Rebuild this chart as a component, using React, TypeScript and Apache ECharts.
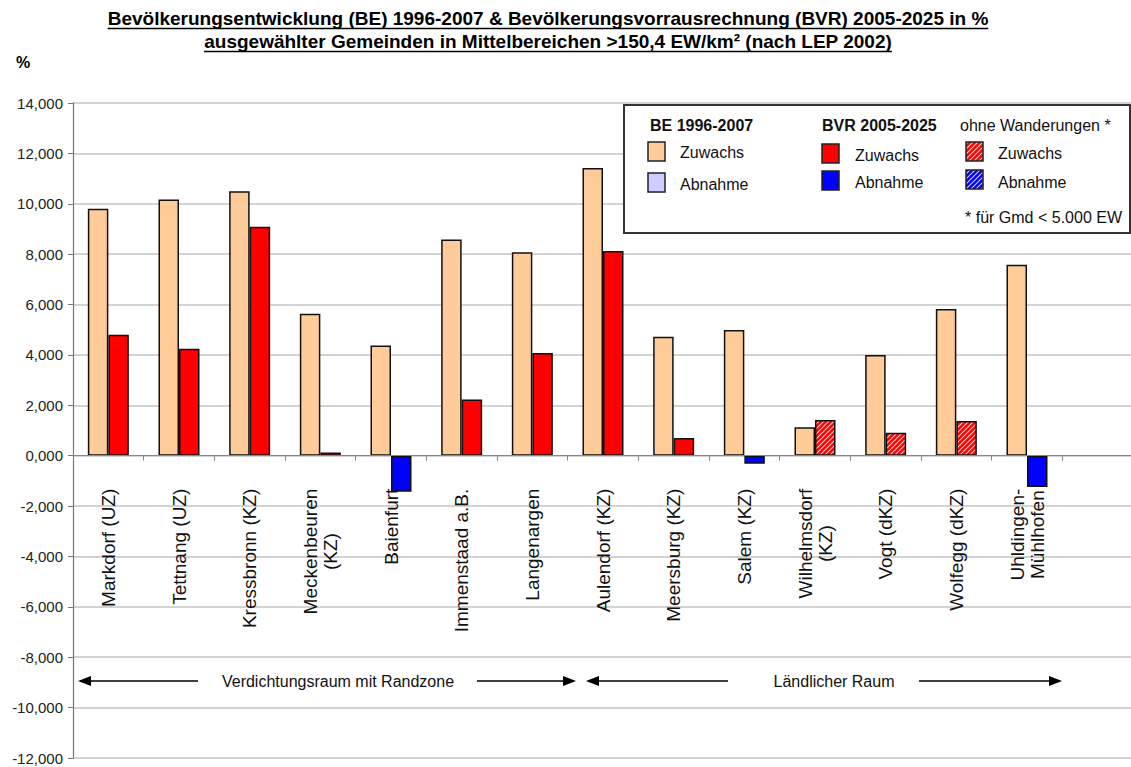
import React, { useEffect, useRef } from "react";
import * as echarts from "echarts";

// Municipalities (line breaks as printed under the axis); the last slot stays empty
const categories = [
  "Markdorf (UZ)",
  "Tettnang (UZ)",
  "Kressbronn (KZ)",
  "Meckenbeuren\n(KZ)",
  "Baienfurt",
  "Immenstaad a.B.",
  "Langenargen",
  "Aulendorf (KZ)",
  "Meersburg (KZ)",
  "Salem (KZ)",
  "Wilhelmsdorf\n(KZ)",
  "Vogt (dKZ)",
  "Wolfegg (dKZ)",
  "Uhldingen-\nMühlhofen",
  "",
];

// Bevölkerungsentwicklung 1996-2007 in %
const beValues = [9.8, 10.17, 10.5, 5.63, 4.37, 8.58, 8.08, 11.42, 4.72, 4.99, 1.13, 4.0, 5.82, 7.58, null];

// Bevölkerungsvorausrechnung 2005-2025 in %
const bvrValues = [4.8, 4.25, 9.09, 0.13, -1.43, 2.23, 4.08, 8.13, 0.7, -0.32, 1.42, 0.91, 1.38, -1.24, null];

// BVR computed without migration (municipalities < 5.000 EW)
const ohneWanderungen = [false, false, false, false, false, false, false, false, false, false, true, true, true, false, false];

const yMin = -12;
const yMax = 14;
const yStep = 2;

const titleLines = [
  "Bevölkerungsentwicklung (BE) 1996-2007 & Bevölkerungsvorrausrechnung (BVR) 2005-2025 in %",
  "ausgewählter Gemeinden in Mittelbereichen >150,4 EW/km² (nach LEP 2002)",
];

const regions = ["Verdichtungsraum mit Randzone", "Ländlicher Raum"];

const BE_UP = "#FFCC99";
const BE_DOWN = "#CCCCFF";
const BVR_UP = "#FF0000";
const BVR_DOWN = "#0000FF";
const FONT = "'Liberation Sans', Arial, sans-serif";

// Plot box
const GRID_LEFT = 73;
const GRID_TOP = 103;
const GRID_H = 655;
const GRID_W = 1060;
// Place the municipality names just under the zero line
const zeroY = GRID_TOP + (GRID_H * yMax) / (yMax - yMin);
const labelTop = zeroY + 33;

function hatch(base: string) {
  const s = 5;
  const c = document.createElement("canvas");
  c.width = s;
  c.height = s;
  const ctx = c.getContext("2d")!;
  ctx.fillStyle = base;
  ctx.fillRect(0, 0, s, s);
  ctx.strokeStyle = "rgba(255,255,255,0.8)";
  ctx.lineWidth = 1.1;
  ctx.beginPath();
  ctx.moveTo(-1, s + 1);
  ctx.lineTo(s + 1, -1);
  ctx.moveTo(-1, 1);
  ctx.lineTo(1, -1);
  ctx.moveTo(s - 1, s + 1);
  ctx.lineTo(s + 1, s - 1);
  ctx.stroke();
  return { image: c as any, repeat: "repeat" as const };
}

function textWidth(text: string, font: string) {
  const c = document.createElement("canvas").getContext("2d")!;
  c.font = font;
  return c.measureText(text).width;
}

function arrowHead(xTip: number, y: number, dir: number) {
  return {
    type: "polygon",
    shape: {
      points: [
        [xTip, y],
        [xTip - dir * 13, y - 5],
        [xTip - dir * 13, y + 5],
      ],
    },
    style: { fill: "#000" },
    z: 20,
  };
}

function hLine(x1: number, x2: number, y: number, width = 1.5, color = "#000") {
  return {
    type: "line",
    shape: { x1, y1: y, x2, y2: y },
    style: { stroke: color, lineWidth: width },
    z: 20,
  };
}

function txt(text: string, x: number, y: number, opts: any = {}) {
  return {
    type: "text",
    x,
    y,
    z: 30,
    style: {
      text,
      fontFamily: FONT,
      fontSize: opts.size ?? 16,
      fontWeight: opts.bold ? "bold" : "normal",
      fill: opts.color ?? "#111",
      align: opts.align ?? "left",
      verticalAlign: "middle",
    },
  };
}

function swatch(x: number, y: number, fill: any) {
  return {
    type: "rect",
    shape: { x, y, width: 17, height: 19 },
    style: { fill, stroke: "#222", lineWidth: 1.5 },
    z: 30,
  };
}

export default function App() {
  const ref = useRef<HTMLDivElement>(null);

  useEffect(() => {
    if (!ref.current) return;
    const chart = echarts.init(ref.current, undefined, { renderer: "svg" });

    const redHatch = hatch(BVR_UP);
    const blueHatch = hatch(BVR_DOWN);

    const beData = beValues.map((v) =>
      v == null ? null : { value: v, itemStyle: { color: v >= 0 ? BE_UP : BE_DOWN } }
    );
    const bvrData = bvrValues.map((v, i) => {
      if (v == null) return null;
      const hatched = ohneWanderungen[i];
      const color = v >= 0 ? (hatched ? redHatch : BVR_UP) : hatched ? blueHatch : BVR_DOWN;
      return { value: v, itemStyle: { color } };
    });

    // Title with underlines sized to the rendered text
    const titleSize = 19;
    const titleFont = `bold ${titleSize}px ${FONT}`;
    const titleCx = 548;
    const titleGraphics: any[] = [];
    titleLines.forEach((line, i) => {
      const yMid = 18 + i * 23;
      const w = textWidth(line, titleFont);
      titleGraphics.push(txt(line, titleCx, yMid, { bold: true, size: titleSize, align: "center", color: "#000" }));
      titleGraphics.push(hLine(titleCx - w / 2, titleCx + w / 2, yMid + 10.5, 1.6));
    });

    const legendGraphics: any[] = [
      {
        type: "rect",
        shape: { x: 624, y: 105, width: 506, height: 128 },
        style: { fill: "#fff", stroke: "#333", lineWidth: 2 },
        z: 25,
      },
      txt("BE 1996-2007", 650, 125, { bold: true }),
      swatch(648, 142, BE_UP),
      txt("Zuwachs", 680, 152),
      swatch(648, 173, BE_DOWN),
      txt("Abnahme", 680, 184),
      txt("BVR 2005-2025", 822, 125, { bold: true }),
      swatch(822, 144, BVR_UP),
      txt("Zuwachs", 855, 155),
      swatch(822, 171, BVR_DOWN),
      txt("Abnahme", 855, 182),
      txt("ohne Wanderungen *", 960, 125),
      swatch(966, 142, redHatch),
      txt("Zuwachs", 998, 153),
      swatch(966, 170, blueHatch),
      txt("Abnahme", 998, 182),
      txt("* für Gmd < 5.000 EW", 1122, 217, { align: "right" }),
    ];

    const arrowY = 681;
    const regionGraphics: any[] = [
      hLine(80, 198, arrowY),
      arrowHead(78, arrowY, -1),
      txt(regions[0], 338, arrowY, { align: "center" }),
      hLine(477, 574, arrowY),
      arrowHead(576, arrowY, 1),
      hLine(588, 728, arrowY),
      arrowHead(586, arrowY, -1),
      txt(regions[1], 834, arrowY, { align: "center" }),
      hLine(919, 1060, arrowY),
      arrowHead(1062, arrowY, 1),
    ];

    chart.setOption({
      animation: false,
      backgroundColor: "#fff",
      grid: {
        left: GRID_LEFT,
        top: GRID_TOP,
        width: GRID_W,
        height: GRID_H,
        containLabel: false,
        outerBoundsMode: "none",
      },
      xAxis: {
        type: "category",
        data: categories,
        boundaryGap: true,
        axisLine: { onZero: true, lineStyle: { color: "#888", width: 1.2 } },
        axisTick: { show: true, length: 5, inside: false, lineStyle: { color: "#888" } },
        axisLabel: {
          rotate: 90,
          // labels are laid out from the plot's bottom edge; pull them up under the zero line
          margin: labelTop - (GRID_TOP + GRID_H),
          interval: 0,
          color: "#111",
          fontFamily: FONT,
          fontSize: 19,
          lineHeight: 20,
          formatter: (v: string) =>
            v
              .split("\n")
              .map((l) => `{c|${l}}`)
              .join("\n"),
          rich: { c: { align: "center", fontFamily: FONT, fontSize: 19, lineHeight: 20, color: "#111" } },
        },
        splitLine: { show: false },
        z: 5,
      },
      yAxis: {
        type: "value",
        min: yMin,
        max: yMax,
        interval: yStep,
        axisLine: { show: true, lineStyle: { color: "#777", width: 1.2 } },
        axisTick: { show: true, length: 5, lineStyle: { color: "#777" } },
        axisLabel: {
          margin: 10,
          color: "#222",
          fontFamily: FONT,
          fontSize: 15,
          formatter: (v: number) => v.toFixed(3).replace(".", ","),
        },
        splitLine: { show: true, lineStyle: { color: "#c4c4c4", width: 1.5 } },
      },
      series: [
        {
          name: "BE 1996-2007",
          type: "bar",
          data: beData,
          barWidth: 20.5,
          barGap: "0%",
          itemStyle: { borderColor: "#111", borderWidth: 1.5 },
          z: 3,
        },
        {
          name: "BVR 2005-2025",
          type: "bar",
          data: bvrData,
          barWidth: 20.5,
          barGap: "0%",
          itemStyle: { borderColor: "#111", borderWidth: 1.5 },
          z: 3,
        },
      ],
      graphic: [
        ...titleGraphics,
        txt("%", 16, 62, { bold: true, size: 16, color: "#000" }),
        ...legendGraphics,
        ...regionGraphics,
      ],
    });

    return () => chart.dispose();
  }, []);

  return (
    <div
      ref={ref}
      style={{ position: "absolute", left: 0, top: 0, width: 1131, height: 767, background: "#fff" }}
    />
  );
}
